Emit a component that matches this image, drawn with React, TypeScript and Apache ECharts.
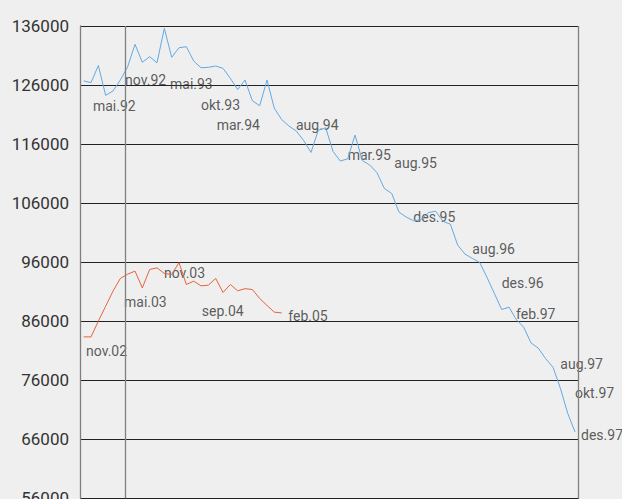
import React, { useEffect, useRef } from 'react';
import * as echarts from 'echarts';

const monthNames = ['jan', 'feb', 'mar', 'apr', 'mai', 'jun', 'jul', 'aug', 'sep', 'okt', 'nov', 'des'];
const startMonthIndex = 4; // mai
const startYear = 92;
const monthCount = 68;

const categories: string[] = [];
for (let i = 0; i < monthCount; i++) {
  const m = (startMonthIndex + i) % 12;
  const y = startYear + Math.floor((startMonthIndex + i) / 12);
  categories.push(monthNames[m] + '.' + String(y % 100).padStart(2, '0'));
}

// Blue series: mai.92 .. des.97
const blueValues = [
  126700, 126400, 129300, 124250, 125000, 126850, 129100, 132900, 129850, 130800,
  129780, 135600, 130700, 132320, 132490, 130070, 128930, 129000, 129220, 128830,
  127140, 125240, 126850, 123340, 122490, 126850, 122050, 120150, 119050, 118200,
  116590, 114590, 118370, 118760, 114760, 113120, 113510, 117530, 113200, 112470,
  111140, 108490, 107640, 104470, 103630, 103000, 103200, 104390, 104640, 102900,
  102440, 98880, 97360, 96630, 95950, 93410, 90700, 87980, 88370, 86250,
  84980, 82320, 81420, 79640, 78200, 74640, 70400, 67240,
];

// Red series: nov.02 .. feb.05
const redValues = [
  83340, 83340, 86000, 88540, 91090, 93240, 93970, 94480, 91640, 94760,
  95030, 94090, 93920, 95920, 92220, 92780, 91980, 92100, 93250, 90860,
  92220, 91140, 91510, 91370, 89850, 88660, 87530, 87400,
];

// Annotation labels: text, position along x (month index), value
const blueLabelTexts = ['mai.92', 'nov.92', 'mai.93', 'okt.93', 'mar.94', 'aug.94', 'mar.95', 'aug.95', 'des.95', 'aug.96', 'des.96', 'feb.97', 'aug.97', 'okt.97', 'des.97'];
const blueLabelX = [1.27, 5.64, 11.77, 16.0, 18.14, 28.95, 36.0, 42.36, 44.95, 53.0, 57.0, 58.96, 65.0, 67.0, 67.82];
const blueLabelY = [122390, 126850, 126120, 122560, 119220, 119220, 114140, 112730, 103580, 98150, 92390, 87300, 78830, 73910, 66680];

const redLabelTexts = ['nov.02', 'mai.03', 'nov.03', 'sep.04', 'feb.05'];
const redLabelX = [0.32, 5.5, 10.95, 16.1, 27.9];
const redLabelY = [80915, 89170, 94085, 87750, 86850];

const yTicks = { min: 56000, max: 136000, interval: 10000 };
const dividerX = [5.73, 67.5];

const FONT = 'Roboto, "Noto Sans", sans-serif';

export default function App() {
  const ref = useRef<HTMLDivElement>(null);
  useEffect(() => {
    const chart = echarts.init(ref.current!, null, { renderer: 'svg' });
    const labelData = (texts: string[], xs: number[], ys: number[]) =>
      texts.map((t, i) => ({ value: [xs[i], ys[i]], label: { formatter: t } }));
    chart.setOption({
      animation: false,
      backgroundColor: '#efefef',
      grid: { left: 80, right: 43.3, top: 26, bottom: 0.7, containLabel: false, outerBoundsMode: 'none' },
      xAxis: [
        { type: 'category', data: categories, boundaryGap: true, show: false },
        { type: 'value', min: -0.5, max: monthCount - 0.5, show: false },
      ],
      yAxis: {
        type: 'value',
        min: yTicks.min,
        max: yTicks.max,
        interval: yTicks.interval,
        axisLine: { show: true, onZero: false, lineStyle: { color: '#808080', width: 1.3 } },
        axisTick: { show: false },
        splitLine: { show: true, lineStyle: { color: '#222', width: 1 } },
        axisLabel: {
          margin: 11,
          fontSize: 17,
          color: '#333',
          fontFamily: FONT,
          padding: [0, 0, 8, 0],
          formatter: (v: number) => String(v),
        },
      },
      series: [
        {
          type: 'line',
          xAxisIndex: 0,
          data: blueValues,
          symbol: 'none',
          lineStyle: { color: '#62a9e3', width: 1 },
          itemStyle: { color: '#62a9e3' },
        },
        {
          type: 'line',
          xAxisIndex: 0,
          data: redValues,
          symbol: 'none',
          lineStyle: { color: '#e5633e', width: 1 },
          itemStyle: { color: '#e5633e' },
        },
        {
          type: 'scatter',
          xAxisIndex: 1,
          symbolSize: 0,
          clip: false,
          silent: true,
          data: [
            ...labelData(blueLabelTexts, blueLabelX, blueLabelY),
            ...labelData(redLabelTexts, redLabelX, redLabelY),
          ],
          label: {
            show: true,
            position: 'right',
            distance: 0,
            color: '#333',
            fontSize: 14,
            fontFamily: FONT,
          },
          markLine: {
            silent: true,
            symbol: 'none',
            label: { show: false },
            lineStyle: { color: '#808080', width: 1.3, type: 'solid' },
            data: dividerX.map((x) => ({ xAxis: x })),
          },
        },
      ],
    });
    return () => chart.dispose();
  }, []);
  return (
    <div
      ref={ref}
      style={{ position: 'fixed', left: 0, top: 0, width: 622, height: 499, background: '#efefef' }}
    />
  );
}
